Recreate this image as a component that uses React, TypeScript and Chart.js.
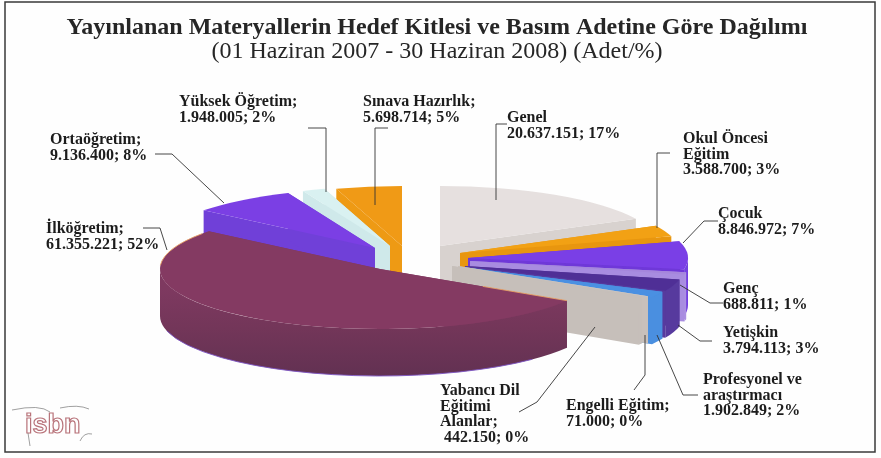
import React, { useEffect, useRef } from "react";
import { Chart, registerables } from "chart.js";

Chart.register(...registerables);

const categories = ["Genel", "Okul Öncesi Eğitim", "Çocuk", "Genç", "Yetişkin", "Profesyonel ve araştırmacı", "Engelli Eğitim", "Yabancı Dil Eğitimi Alanlar", "İlköğretim", "Ortaöğretim", "Yüksek Öğretim", "Sınava Hazırlık"];
const adet = [20637151, 3588700, 8846972, 688811, 3794113, 1902849, 71000, 442150, 61355221, 9136400, 1948005, 5698714];

const topColors = ["#e6e0df", "#f2a114", "#7a3fe6", "#a586dc", "#4f2f96", "#4a90e2", "#d8d0cc", "#c6bfba", "#843a62", "#7b3fe4", "#d9f1f1", "#f09a16"];
const faceColors = ["#d8d2cf", "#e8960f", "#6f38d8", "#a88ce0", "#573a9e", "#4a8fe0", "#c8c0bb", "#c6bfba", "#7f3a60", "#7040d8", "#cfe9ea", "#ee9a14"];
const wallColors = ["#d8d2cf", "#e8960f", "#7440e0", "#ab90e2", "#573a9e", "#4a8fe0", "#c8c0bb", "#c6bfba", "#6c3356", "#7040d8", "#cfe9ea", "#ee9a14"];

// style: explosion of each slice from the pie centre, and paint order
const explodeX = [3, 23, 31, 33, 28, 25, 21, 15, -57, -62, -47, -35];
const explodeY = [-15, -8, -3, 0, 5, 6, 5, 5, 8, -13, -15, -15];
const paintOrder = [11, 10, 9, 0, 1, 2, 3, 4, 5, 6, 7, 8];
const squash = 60 / 220;
const depth = 47;

const labelTexts = [
  { x: 507, y: 122, lines: ["Genel", "20.637.151; 17%"] },
  { x: 683, y: 143, lines: ["Okul Öncesi", "Eğitim", "3.588.700; 3%"] },
  { x: 718, y: 218, lines: ["Çocuk", "8.846.972; 7%"] },
  { x: 723, y: 293, lines: ["Genç", "688.811; 1%"] },
  { x: 723, y: 337, lines: ["Yetişkin", "3.794.113; 3%"] },
  { x: 703, y: 384, lines: ["Profesyonel ve", "araştırmacı", "1.902.849; 2%"] },
  { x: 566, y: 410, lines: ["Engelli Eğitim;", "71.000; 0%"] },
  { x: 440, y: 395, lines: ["Yabancı Dil", "Eğitimi", "Alanlar;", " 442.150; 0%"] },
  { x: 46, y: 233, lines: ["İlköğretim;", "61.355.221; 52%"] },
  { x: 50, y: 144, lines: ["Ortaöğretim;", "9.136.400; 8%"] },
  { x: 179, y: 106, lines: ["Yüksek Öğretim;", "1.948.005; 2%"] },
  { x: 363, y: 106, lines: ["Sınava Hazırlık;", "5.698.714; 5%"] },
];
const leaders = [
  [[507, 124], [496, 124], [496, 200]],
  [[670, 153], [657, 153], [657, 228]],
  [[718, 221], [704, 221], [683, 243]],
  [[723, 303], [710, 303], [680, 285]],
  [[712, 341], [700, 341], [678, 325]],
  [[698, 395], [683, 395], [657, 335]],
  [[634, 390], [645, 375], [645, 335]],
  [[519, 412], [537, 402], [595, 327]],
  [[143, 228], [160, 228], [167, 250]],
  [[155, 154], [172, 154], [224, 203]],
  [[308, 128], [326, 128], [326, 192]],
  [[388, 128], [375, 128], [375, 205]],
];

const pie3d = {
  id: "pie3d",
  beforeDraw(chart: any) {
    const c = chart.ctx;
    c.save();
    c.fillStyle = "#fefefe";
    c.fillRect(0, 0, chart.width, chart.height);
    c.strokeStyle = "#3a3a3a";
    c.lineWidth = 1.5;
    c.strokeRect(5, 2, 870, 450);
    c.restore();
  },
  beforeDatasetDraw(chart: any, args: any) {
    const c = chart.ctx;
    const arcs = args.meta.data;
    c.save();
    for (const i of paintOrder) {
      const el = arcs[i];
      const p = el.getProps(["x", "y", "startAngle", "endAngle", "outerRadius"], true);
      const rx = p.outerRadius;
      const ry = rx * squash;
      const cx = p.x + explodeX[i];
      const cy = p.y + explodeY[i];
      const A = p.startAngle;
      const B = p.endAngle;
      const big = B - A > Math.PI / 2;
      const quad = (a: number) => {
        const ox = cx + rx * Math.cos(a);
        const oy = cy + ry * Math.sin(a);
        c.beginPath();
        c.moveTo(cx, cy);
        c.lineTo(ox, oy);
        c.lineTo(ox, oy + depth);
        c.lineTo(cx, cy + depth);
        c.closePath();
        c.fillStyle = faceColors[i];
        c.fill();
      };
      quad(A);
      quad(B);
      // outer wall, only where it faces the viewer (screen angles 0..PI)
      const wa = Math.max(A, 0);
      const wb = Math.min(B, Math.PI);
      if (wb > wa) {
        c.beginPath();
        c.ellipse(cx, cy, rx, ry, 0, wa, wb);
        c.ellipse(cx, cy + depth, rx, ry, 0, wb, wa, true);
        c.closePath();
        if (big) {
          const g = c.createLinearGradient(0, cy + 20, 0, cy + ry + depth);
          g.addColorStop(0, "#7e3960");
          g.addColorStop(0.45, "#733659");
          g.addColorStop(1, "#623152");
          c.fillStyle = g;
        } else {
          c.fillStyle = wallColors[i];
        }
        c.fill();
      }
      c.beginPath();
      c.moveTo(cx, cy);
      c.ellipse(cx, cy, rx, ry, 0, A, B);
      c.closePath();
      c.fillStyle = el.options.backgroundColor;
      c.fill();
      if (big) {
        // scanned rims on the large slice
        c.lineWidth = 0.9;
        c.strokeStyle = "#e9a266";
        c.beginPath();
        c.moveTo(cx + (rx * Math.cos(A)) * 0.55, cy + (ry * Math.sin(A)) * 0.55);
        c.lineTo(cx + rx * Math.cos(A), cy + ry * Math.sin(A));
        c.stroke();
        c.beginPath();
        c.ellipse(cx, cy, rx, ry, 0, Math.PI * 1.02, B - 0.05);
        c.stroke();
        c.strokeStyle = "#7d55c4";
        c.beginPath();
        c.ellipse(cx, cy + depth, rx, ry, 0, wa + 0.25, Math.PI * 0.92);
        c.stroke();
      }
    }
    c.restore();
    return false;
  },
  afterDatasetsDraw(chart: any) {
    const c = chart.ctx;
    c.save();
    c.strokeStyle = "#333";
    c.lineWidth = 0.9;
    for (const pts of leaders) {
      c.beginPath();
      pts.forEach(([x, y], k) => (k ? c.lineTo(x, y) : c.moveTo(x, y)));
      c.stroke();
    }
    c.fillStyle = "#1c1c1c";
    c.font = 'bold 16px "Liberation Serif"';
    c.textBaseline = "alphabetic";
    c.textAlign = "left";
    for (const l of labelTexts) {
      l.lines.forEach((t, k) => c.fillText(t, l.x, l.y + k * 15.7));
    }
    // isbn logo
    c.font = 'bold 27px "Liberation Sans"';
    c.strokeStyle = "#b8737a";
    c.lineWidth = 1.2;
    c.strokeText("isbn", 25, 433);
    c.strokeStyle = "#777";
    c.lineWidth = 0.7;
    c.beginPath();
    c.moveTo(12, 410); c.quadraticCurveTo(40, 404, 50, 412);
    c.moveTo(60, 408); c.quadraticCurveTo(78, 404, 89, 409);
    c.moveTo(28, 433); c.lineTo(30, 446);
    c.moveTo(80, 441); c.quadraticCurveTo(84, 432, 92, 434);
    c.stroke();
    c.restore();
  },
};

export default function App() {
  const ref = useRef<HTMLCanvasElement>(null);
  useEffect(() => {
    const chart = new Chart(ref.current as any, {
      type: "pie",
      data: {
        labels: categories,
        datasets: [{ data: adet, backgroundColor: topColors, borderWidth: 0 }],
      },
      options: {
        animation: false,
        responsive: false,
        radius: 220,
        layout: { padding: { right: 7 } },
        plugins: {
          legend: { display: false },
          tooltip: { enabled: false },
          title: {
            display: true,
            text: "Yayınlanan Materyallerin Hedef Kitlesi ve Basım Adetine Göre Dağılımı",
            color: "#262626",
            font: { family: "Liberation Serif", size: 24, weight: "bold", lineHeight: 1 },
            padding: { top: 16, bottom: 0 },
          },
          subtitle: {
            display: true,
            text: "(01 Haziran 2007 - 30 Haziran 2008) (Adet/%)",
            color: "#262626",
            font: { family: "Liberation Serif", size: 24, weight: "normal", lineHeight: 1 },
            padding: { top: 0, bottom: 0 },
          },
        },
      } as any,
      plugins: [pie3d as any],
    });
    return () => chart.destroy();
  }, []);
  return <canvas ref={ref} width={881} height={458} style={{ position: "absolute", left: 0, top: 0, display: "block" }} />;
}
